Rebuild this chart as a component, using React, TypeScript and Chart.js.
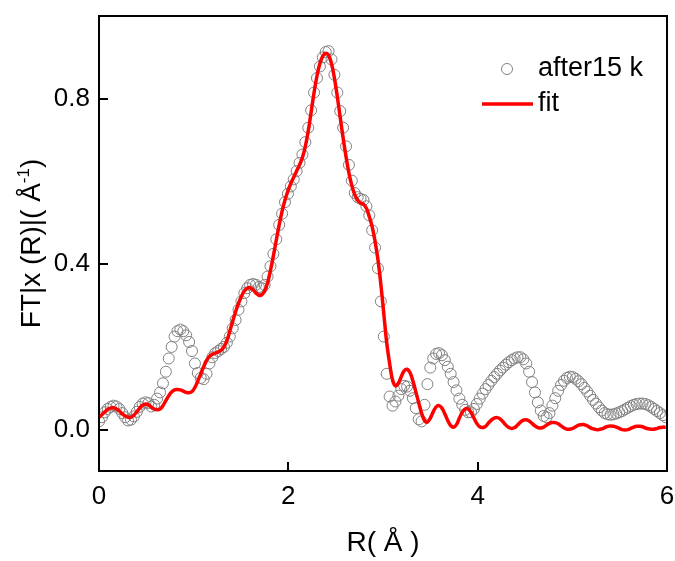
import React, { useEffect, useRef } from "react";
import { Chart, registerables } from "chart.js";
Chart.register(...registerables);

const R_STEP = 0.0307;

const dataValues = [
  0.020, 0.030, 0.042, 0.050, 0.055, 0.058, 0.056, 0.050, 0.040, 0.030,
  0.022, 0.024, 0.032, 0.043, 0.055, 0.063, 0.066, 0.064, 0.056, 0.060,
  0.075, 0.090, 0.112, 0.140, 0.172, 0.200, 0.225, 0.238, 0.242, 0.238,
  0.228, 0.212, 0.190, 0.160, 0.137, 0.125, 0.122, 0.135, 0.160, 0.175,
  0.185, 0.190, 0.195, 0.200, 0.210, 0.225, 0.245, 0.265, 0.290, 0.310,
  0.330, 0.342, 0.350, 0.352, 0.350, 0.345, 0.342, 0.350, 0.370, 0.395,
  0.425, 0.460, 0.495, 0.522, 0.550, 0.570, 0.588, 0.605, 0.625, 0.645,
  0.665, 0.695, 0.730, 0.772, 0.815, 0.850, 0.878, 0.900, 0.913, 0.915,
  0.895, 0.858, 0.815, 0.770, 0.730, 0.685, 0.640, 0.602, 0.572, 0.562,
  0.558, 0.555, 0.540, 0.518, 0.482, 0.440, 0.390, 0.310, 0.225, 0.135,
  0.080, 0.058, 0.068, 0.082, 0.098, 0.106, 0.104, 0.094, 0.076, 0.052,
  0.025, 0.020, 0.060, 0.110, 0.150, 0.172, 0.183, 0.185, 0.180, 0.168,
  0.152, 0.135, 0.115, 0.095, 0.075, 0.060, 0.048, 0.042, 0.042, 0.050,
  0.062, 0.075, 0.087, 0.098, 0.108, 0.118, 0.127, 0.135, 0.143, 0.150,
  0.157, 0.163, 0.168, 0.172, 0.175, 0.175, 0.170, 0.160, 0.140, 0.115,
  0.090, 0.066, 0.046, 0.033, 0.030, 0.040, 0.058, 0.076, 0.094, 0.108,
  0.118, 0.125, 0.128, 0.127, 0.123, 0.117, 0.110, 0.101, 0.092, 0.082,
  0.072, 0.063, 0.054, 0.046, 0.040, 0.037, 0.036, 0.037, 0.039, 0.042,
  0.045, 0.049, 0.053, 0.057, 0.060, 0.062, 0.063, 0.063, 0.062, 0.059,
  0.055, 0.050, 0.045, 0.040, 0.035, 0.030,
];

const fitValues = [
  0.030, 0.036, 0.043, 0.049, 0.052, 0.053, 0.050, 0.045, 0.038, 0.033,
  0.030, 0.030, 0.035, 0.043, 0.052, 0.059, 0.062, 0.060, 0.055, 0.050,
  0.048, 0.050, 0.058, 0.070, 0.082, 0.091, 0.096, 0.097, 0.096, 0.093,
  0.090, 0.089, 0.092, 0.102, 0.118, 0.135, 0.152, 0.167, 0.177, 0.182,
  0.185, 0.188, 0.192, 0.200, 0.215, 0.238, 0.262, 0.285, 0.305, 0.322,
  0.335, 0.342, 0.343, 0.338, 0.330, 0.325, 0.326, 0.335, 0.355, 0.385,
  0.420, 0.458, 0.495, 0.528, 0.555, 0.577, 0.595, 0.610, 0.625, 0.640,
  0.658, 0.685, 0.722, 0.768, 0.815, 0.855, 0.885, 0.903, 0.910, 0.905,
  0.885, 0.850, 0.805, 0.755, 0.705, 0.660, 0.620, 0.590, 0.568, 0.555,
  0.548, 0.545, 0.535, 0.515, 0.490, 0.455, 0.410, 0.350, 0.280, 0.210,
  0.160, 0.120, 0.106, 0.112, 0.128, 0.142, 0.146, 0.138, 0.118, 0.092,
  0.065, 0.040, 0.022, 0.018, 0.028, 0.043, 0.055, 0.058, 0.052, 0.038,
  0.022, 0.010, 0.006, 0.012, 0.028, 0.042, 0.050, 0.050, 0.042, 0.028,
  0.015, 0.007, 0.005, 0.008, 0.016, 0.023, 0.028, 0.029, 0.026, 0.019,
  0.011, 0.005, 0.003, 0.005, 0.011, 0.018, 0.023, 0.024, 0.021, 0.015,
  0.009, 0.005, 0.004, 0.006, 0.011, 0.015, 0.017, 0.017, 0.014, 0.009,
  0.004, 0.001, 0.001, 0.003, 0.007, 0.011, 0.012, 0.012, 0.009, 0.005,
  0.002, 0.000, 0.000, 0.002, 0.005, 0.008, 0.009, 0.008, 0.006, 0.003,
  0.000, -0.001, 0.000, 0.003, 0.006, 0.008, 0.008, 0.007, 0.004, 0.002,
  0.001, 0.001, 0.003, 0.005, 0.006, 0.006,
];

const rValues = dataValues.map((_, i) => +(i * R_STEP).toFixed(4));

const xTicks = [0, 2, 4, 6];
const yTicks = [0.0, 0.4, 0.8];
const seriesNames = ["after15 k", "fit"];
const xTitle = "R( Å )";
const yTitleMain = "FT|x (R)|( Å";
const yTitleSup = "-1";
const yTitleEnd = ")";

const FONT = '"Liberation Sans", Arial, sans-serif';

const decorPlugin = {
  id: "decor",
  afterDraw(chart: any) {
    const { ctx, chartArea, scales } = chart;
    const { left, right, top, bottom } = chartArea;
    const x = scales.x;
    const y = scales.y;
    ctx.save();
    ctx.strokeStyle = "#000";
    ctx.lineWidth = 2;
    ctx.strokeRect(left, top, right - left, bottom - top);
    ctx.beginPath();
    xTicks.forEach((v) => {
      const px = Math.round(x.getPixelForValue(v));
      ctx.moveTo(px, bottom);
      ctx.lineTo(px, bottom - 9);
    });
    yTicks.forEach((v) => {
      const py = Math.round(y.getPixelForValue(v));
      ctx.moveTo(left, py);
      ctx.lineTo(left + 9, py);
    });
    ctx.stroke();

    // x title
    ctx.fillStyle = "#000";
    ctx.font = `28px ${FONT}`;
    ctx.textAlign = "center";
    ctx.textBaseline = "middle";
    ctx.fillText(xTitle, (left + right) / 2, 543);

    // y title (rotated)
    ctx.save();
    ctx.translate(40, (top + bottom) / 2);
    ctx.rotate(-Math.PI / 2);
    ctx.textBaseline = "alphabetic";
    ctx.textAlign = "left";
    ctx.font = `28px ${FONT}`;
    const wMain = ctx.measureText(yTitleMain).width;
    const wEnd = ctx.measureText(yTitleEnd).width;
    ctx.font = `17px ${FONT}`;
    const wSup = ctx.measureText(yTitleSup).width;
    const total = wMain + wSup + wEnd;
    let u = -total / 2;
    ctx.font = `28px ${FONT}`;
    ctx.fillText(yTitleMain, u, 0);
    u += wMain;
    ctx.font = `17px ${FONT}`;
    ctx.fillText(yTitleSup, u, -11);
    u += wSup;
    ctx.font = `28px ${FONT}`;
    ctx.fillText(yTitleEnd, u, 0);
    ctx.restore();

    // legend
    ctx.font = `27px ${FONT}`;
    ctx.textAlign = "left";
    ctx.textBaseline = "middle";
    ctx.beginPath();
    ctx.arc(507, 69, 5.5, 0, Math.PI * 2);
    ctx.strokeStyle = "#808080";
    ctx.lineWidth = 1;
    ctx.stroke();
    ctx.fillStyle = "#000";
    ctx.fillText(seriesNames[0], 538, 69);
    ctx.beginPath();
    ctx.moveTo(482, 104);
    ctx.lineTo(533, 104);
    ctx.strokeStyle = "#ff0000";
    ctx.lineWidth = 3.5;
    ctx.stroke();
    ctx.fillText(seriesNames[1], 538, 104);
    ctx.restore();
  },
};

export default function App() {
  const ref = useRef<HTMLCanvasElement | null>(null);
  useEffect(() => {
    if (!ref.current) return;
    const chart = new Chart(ref.current, {
      type: "scatter",
      data: {
        datasets: [
          {
            label: seriesNames[0],
            data: rValues.map((r, i) => ({ x: r, y: dataValues[i] })),
            showLine: false,
            pointRadius: 5.5,
            pointBorderWidth: 1,
            pointBorderColor: "#808080",
            pointBackgroundColor: "rgba(255,255,255,0)",
            order: 1,
          },
          {
            label: seriesNames[1],
            data: rValues.map((r, i) => ({ x: r, y: fitValues[i] })),
            showLine: true,
            borderColor: "#ff0000",
            borderWidth: 3.5,
            pointRadius: 0,
            tension: 0.4,
            order: 0,
          },
        ],
      },
      options: {
        animation: false,
        responsive: false,
        devicePixelRatio: 1,
        layout: { padding: { left: 0, right: 8, top: 16, bottom: 0 } },
        plugins: { legend: { display: false }, tooltip: { enabled: false } },
        scales: {
          x: {
            type: "linear",
            min: 0,
            max: 6,
            afterBuildTicks: (s: any) => {
              s.ticks = xTicks.map((v) => ({ value: v }));
            },
            afterFit: (s: any) => {
              s.height = 90;
              s.paddingLeft = 0;
              s.paddingRight = 0;
            },
            grid: { display: false, drawTicks: false },
            border: { display: false },
            ticks: {
              padding: 10,
              color: "#000",
              maxRotation: 0,
              font: { family: FONT, size: 26 },
              callback: (v: any) => String(v),
            },
          },
          y: {
            type: "linear",
            min: -0.1,
            max: 1.0,
            afterBuildTicks: (s: any) => {
              s.ticks = yTicks.map((v) => ({ value: v }));
            },
            afterFit: (s: any) => {
              s.width = 99;
              s.paddingTop = 0;
              s.paddingBottom = 0;
            },
            grid: { display: false, drawTicks: false },
            border: { display: false },
            ticks: {
              padding: 9,
              color: "#000",
              font: { family: FONT, size: 26 },
              callback: (v: any) => Number(v).toFixed(1),
            },
          },
        },
      },
      plugins: [decorPlugin],
    });
    return () => chart.destroy();
  }, []);
  return (
    <div style={{ position: "absolute", left: 0, top: 0, width: 675, height: 561, background: "#fff" }}>
      <canvas ref={ref} width={675} height={561} />
    </div>
  );
}
